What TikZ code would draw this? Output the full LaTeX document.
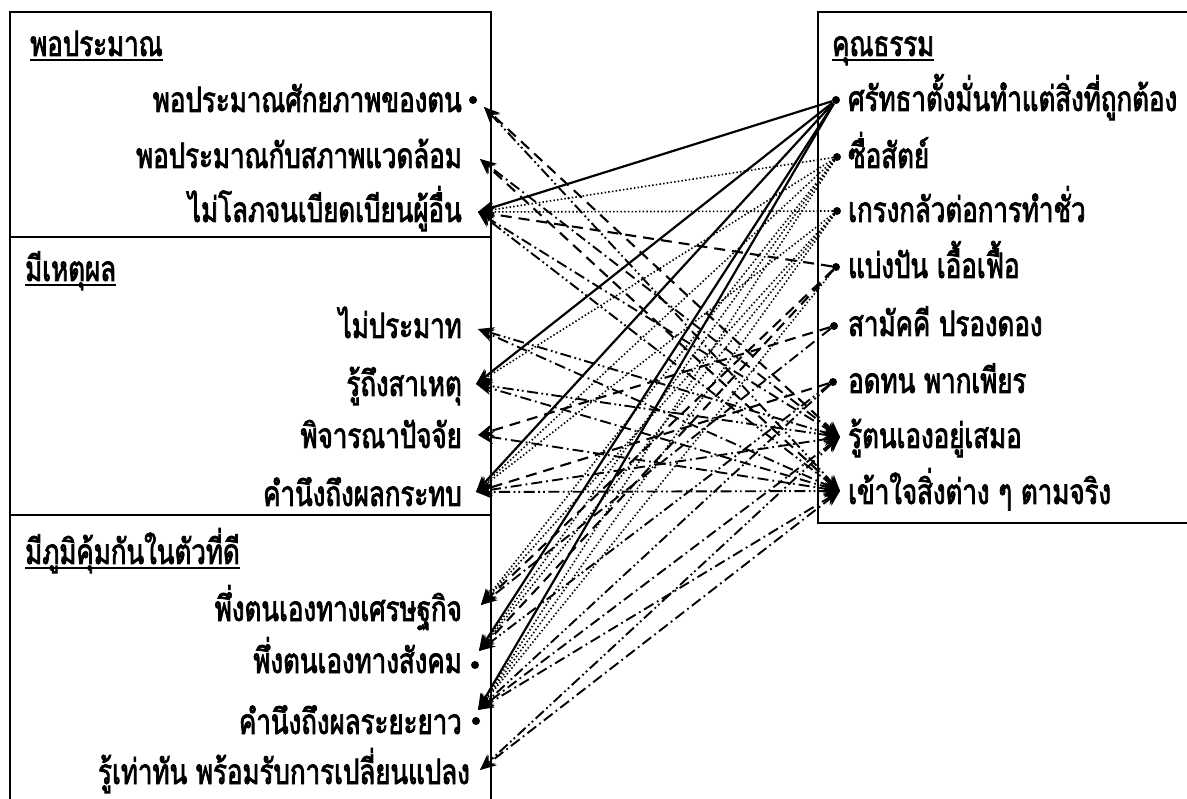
\documentclass[tikz,border=0pt]{standalone}
\usepackage{fontspec}
\newfontfamily\thai[Script=Thai,FakeBold=2.2,FakeStretch=0.74]{Loma}
\usetikzlibrary{arrows.meta}
\begin{document}
\begin{tikzpicture}[x=1pt,y=-1pt,
  lbl/.style={font=\thai\fontsize{35}{35}\selectfont, inner sep=0pt},
  hdr/.style={lbl, anchor=base west},
  litem/.style={lbl, anchor=base east},
  ritem/.style={lbl, anchor=base west},
  dotm/.style={circle, fill=black, inner sep=0pt, minimum size=8pt},
  cn/.style={-{Stealth[length=16pt,width=13pt]}},
  cnr/.style={{Stealth[length=16pt,width=13pt]}-{Stealth[length=16pt,width=13pt]}},
  solidl/.style={line width=2.2pt},
  dotl/.style={line width=1.6pt, dash pattern=on 1.5pt off 2.2pt},
  dashl/.style={line width=2.1pt, dash pattern=on 11pt off 7pt},
  dashdotl/.style={line width=1.9pt, dash pattern=on 11pt off 4pt on 1.8pt off 4pt},
  dddl/.style={line width=1.9pt, dash pattern=on 11pt off 3.5pt on 1.8pt off 3pt on 1.8pt off 3.5pt},
  boxl/.style={line width=1.4pt}
]
\useasboundingbox (0,0) rectangle (1187,799);
\clip (0,0) rectangle (1187,799);
% boxes
\draw[boxl] (10,12) rectangle (491,810);
\draw[boxl] (10,237) -- (491,237);
\draw[boxl] (10,515) -- (491,515);
\draw[boxl] (818,12) rectangle (1200,523);
% headers
\node[hdr] (h1) at (30,56) {พอประมาณ};
\node[hdr] (h2) at (25,281) {มีเหตุผล};
\node[hdr] (h3) at (25,564) {มีภูมิคุ้มกันในตัวที่ดี};
\node[hdr] (h4) at (832,56) {คุณธรรม};
\foreach \h in {h1,h2,h3,h4}
  \draw[line width=1.6pt] ([yshift=-4pt]\h.base west) -- ([yshift=-4pt]\h.base east);
% left items
\node[litem] (t1) at (462,112) {พอประมาณศักยภาพของตน};
\node[litem] (t2) at (462,168) {พอประมาณกับสภาพแวดล้อม};
\node[litem] (t3) at (462,222) {ไม่โลภจนเบียดเบียนผู้อื่น};
\node[litem] (t4) at (462,338) {ไม่ประมาท};
\node[litem] (t5) at (462,396) {รู้ถึงสาเหตุ};
\node[litem] (t6) at (462,448) {พิจารณาปัจจัย};
\node[litem] (t7) at (462,506) {คำนึงถึงผลกระทบ};
\node[litem] (t8) at (462,621) {พึ่งตนเองทางเศรษฐกิจ};
\node[litem] (t9) at (462,673) {พึ่งตนเองทางสังคม};
\node[litem] (t10) at (462,734) {คำนึงถึงผลระยะยาว};
\node[litem] (t11) at (470,784) {รู้เท่าทัน พร้อมรับการเปลี่ยนแปลง};
% right items
\node[ritem] (s1) at (848,111) {ศรัทธาตั้งมั่นทำแต่สิ่งที่ถูกต้อง};
\node[ritem] (s2) at (848,168) {ซื่อสัตย์};
\node[ritem] (s3) at (848,222) {เกรงกลัวต่อการทำชั่ว};
\node[ritem] (s4) at (848,278) {แบ่งปัน เอื้อเฟื้อ};
\node[ritem] (s5) at (848,336) {สามัคคี ปรองดอง};
\node[ritem] (s6) at (848,393) {อดทน พากเพียร};
\node[ritem] (s7) at (848,448) {รู้ตนเองอยู่เสมอ};
\node[ritem] (s8) at (848,504) {เข้าใจสิ่งต่าง ๆ ตามจริง};
% left end points
\coordinate (L1) at (484,107);
\coordinate (L2) at (480,159);
\coordinate (L3) at (478,212);
\coordinate (L4) at (478,329);
\coordinate (L5) at (476,384);
\coordinate (L6) at (478,435);
\coordinate (L7) at (476,492);
\coordinate (L8) at (481,605);
\coordinate (L9) at (479,651);
\coordinate (L10) at (478,710);
\coordinate (L11) at (480,770);
\node[dotm] (d1) at (473,100) {};
\node[dotm] (d9) at (475,665) {};
\node[dotm] (d10) at (476,721) {};
% right end points
\node[dotm] (R1) at (836,100) {};
\node[dotm] (R2) at (837,157) {};
\node[dotm] (R3) at (837,211) {};
\node[dotm] (R4) at (836,267) {};
\node[dotm] (R5) at (834,326) {};
\node[dotm] (R6) at (833,382) {};
\coordinate (R7) at (840,437);
\coordinate (R8) at (840,491);
% solid
\draw[cn,solidl] (R1) -- (L3);
\draw[cn,solidl] (R1) -- (L5);
\draw[cn,solidl] (R1) -- (L7);
\draw[cn,solidl] (R1) -- (L9);
\draw[cn,solidl] (R1) -- (L10);
% dotted
\draw[cn,dotl] (R2) -- (L3);
\draw[cn,dotl] (R3) -- (L3);
\draw[cn,dotl] (R2) -- (L5);
\draw[cn,dotl] (R2) -- (L7);
\draw[cn,dotl] (R3) -- (L7);
\draw[cn,dotl] (R2) -- (L8);
\draw[cn,dotl] (R3) -- (L8);
\draw[cn,dotl] (R2) -- (L9);
\draw[cn,dotl] (R3) -- (L9);
\draw[cn,dotl] (R2) -- (L10);
\draw[cn,dotl] (R3) -- (L10);
\draw[cn,dotl] (R4) -- (L10);
% dashed
\draw[cn,dashl] (R4) -- (L3);
\draw[cnr,dashl] (R7) -- (L1);
\draw[cnr,dashl] (R8) -- (L2);
\draw[cn,dashl] (R5) -- (L6);
\draw[cn,dashl] (R4) -- (L8);
\draw[cn,dashl] (R4) -- (L9);
\draw[cn,dashl] (R6) -- (L7);
% dash dot
\draw[cnr,dashdotl] (R7) -- (L2);
\draw[cnr,dashdotl] (R7) -- (L3);
\draw[cnr,dashdotl] (R8) -- (L4);
\draw[cnr,dashdotl] (R8) -- (L5);
\draw[cnr,dashdotl] (R8) -- (L6);
\draw[cnr,dashdotl] (R7) -- (L7);
\draw[cn,dashdotl] (R5) -- (L8);
\draw[cnr,dashdotl] (R7) -- (L10);
\draw[cnr,dashdotl] (R8) -- (L10);
\draw[cnr,dashdotl] (R8) -- (L11);
% dash dot dot
\draw[cnr,dddl] (R8) -- (L1);
\draw[cnr,dddl] (R8) -- (L3);
\draw[cnr,dddl] (R7) -- (L4);
\draw[cnr,dddl] (R7) -- (L5);
\draw[cnr,dddl] (R8) -- (L7);
\draw[cn,dddl] (R6) -- (L9);
\draw[cn,dddl] (R6) -- (L10);
\draw[cnr,dddl] (R7) -- (L11);
\end{tikzpicture}
\end{document}
